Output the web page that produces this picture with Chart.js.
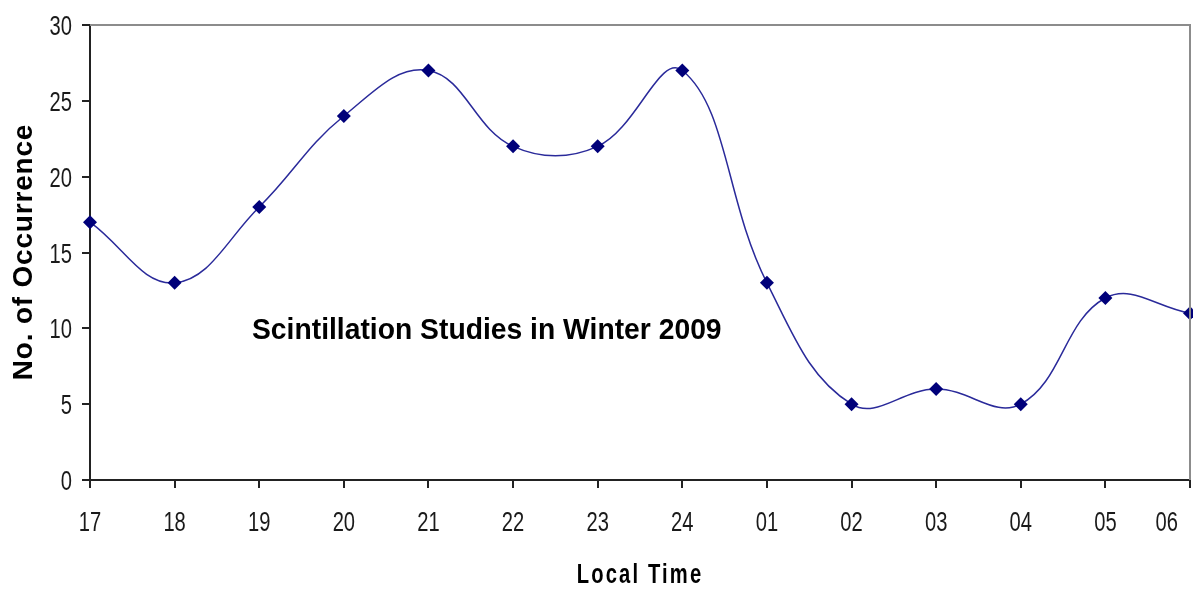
<!DOCTYPE html>
<html>
<head>
<meta charset="utf-8">
<script src="https://cdn.jsdelivr.net/npm/chart.js@4"></script>
<style>
  html, body { margin: 0; padding: 0; background: #fff; }
  #wrap { width: 1193px; height: 592px; }
</style>
</head>
<body>
<div id="wrap"><canvas id="lineChart"></canvas></div>
<script>
const hours = ["17", "18", "19", "20", "21", "22", "23", "24", "01", "02", "03", "04", "05", "06"];
const occurrences = [17, 13, 18, 24, 27, 22, 22, 27, 13, 5, 6, 5, 12, 11];
const yTicks = [0, 5, 10, 15, 20, 25, 30];

const sans = "'Liberation Sans', Arial, sans-serif";
const squeeze = 0.72; // the original picture is squashed sideways

// draw text squeezed horizontally around its anchor
function squeezedText(ctx, text, x, y, align, font, spacing) {
  ctx.save();
  ctx.font = font;
  ctx.letterSpacing = (spacing || 0) + "px";
  ctx.textAlign = align;
  ctx.textBaseline = "alphabetic";
  ctx.translate(x, y);
  ctx.scale(squeeze, 1);
  ctx.fillText(text, 0, 0);
  ctx.restore();
}

const frameAndText = {
  id: "frameAndText",
  afterDraw(chart) {
    const { ctx, chartArea } = chart;
    const xs = chart.scales.x;
    const ys = chart.scales.y;

    ctx.save();
    ctx.strokeStyle = "#8c8c8c";
    ctx.lineWidth = 2;
    ctx.beginPath();
    ctx.moveTo(chartArea.left, chartArea.top);
    ctx.lineTo(chartArea.right, chartArea.top);
    ctx.lineTo(chartArea.right, chartArea.bottom);
    ctx.stroke();
    ctx.fillStyle = "#1a1a1a";

    // y tick labels
    ys.ticks.forEach((t) => {
      squeezedText(ctx, String(t.value), chartArea.left - 18, ys.getPixelForValue(t.value) + 10, "right", "28px " + sans);
    });

    // x tick labels, last one pulled inside the canvas
    ctx.font = "28px " + sans;
    xs.ticks.forEach((t, i) => {
      const label = xs.getLabelForValue(t.value);
      const half = (ctx.measureText(label).width * squeeze) / 2;
      let x = xs.getPixelForTick(i);
      if (x + half > chart.width - 15) x = chart.width - 15 - half;
      squeezedText(ctx, label, x, chartArea.bottom + 51, "center", "28px " + sans);
    });

    ctx.fillStyle = "#000";
    squeezedText(ctx, "Local Time", 640, 583, "center", "bold 28px " + sans, 3);

    // y axis title, rotated
    ctx.save();
    ctx.font = "bold 28px " + sans;
    ctx.letterSpacing = "0.8px";
    ctx.textAlign = "center";
    ctx.textBaseline = "alphabetic";
    ctx.translate(32, 252);
    ctx.rotate(-Math.PI / 2);
    ctx.fillText("No. of Occurrence", 0, 0);
    ctx.restore();

    // caption inside the plot
    ctx.save();
    ctx.font = "bold 28px " + sans;
    ctx.textAlign = "left";
    ctx.translate(252, 339);
    ctx.scale(1.01, 1.05);
    ctx.fillText("Scintillation Studies in Winter 2009", 0, 0);
    ctx.restore();

    ctx.restore();
  },
};

const ctx = document.getElementById("lineChart").getContext("2d");
new Chart(ctx, {
  type: "line",
  data: {
    labels: hours,
    datasets: [
      {
        data: occurrences,
        borderColor: "#2a2a9a",
        backgroundColor: "#00007a",
        borderWidth: 1.5,
        tension: 0.4,
        pointStyle: "rectRot",
        pointRadius: 7,
        pointHoverRadius: 7,
        pointBorderWidth: 0,
      },
    ],
  },
  options: {
    responsive: true,
    maintainAspectRatio: false,
    animation: false,
    layout: { autoPadding: false, padding: { top: 25, right: 3, left: 0, bottom: 0 } },
    plugins: {
      legend: { display: false },
      tooltip: { enabled: false },
    },
    scales: {
      x: {
        type: "category",
        offset: false,
        grid: { display: true, drawOnChartArea: false, drawTicks: true, tickLength: 8, color: "#222", lineWidth: 2 },
        border: { display: true, color: "#222", width: 2 },
        ticks: { display: false, autoSkip: false },
        afterFit(scale) {
          scale.height = 112;
          scale.paddingLeft = 0;
          scale.paddingRight = 0;
        },
      },
      y: {
        min: 0,
        max: 30,
        afterBuildTicks(scale) {
          scale.ticks = yTicks.map((v) => ({ value: v }));
        },
        grid: { display: true, drawOnChartArea: false, drawTicks: true, tickLength: 8, color: "#222", lineWidth: 2 },
        border: { display: true, color: "#222", width: 2 },
        ticks: { display: false },
        afterFit(scale) {
          scale.width = 90;
          scale.paddingTop = 0;
          scale.paddingBottom = 0;
        },
      },
    },
  },
  plugins: [frameAndText],
});
</script>
</body>
</html>
